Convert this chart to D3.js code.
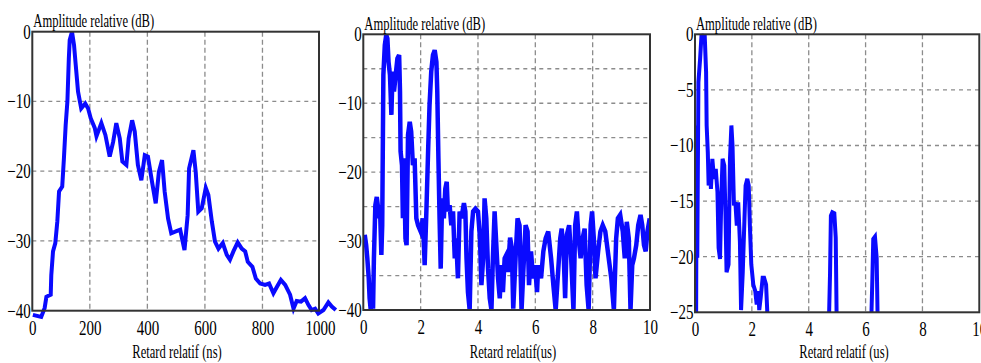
<!DOCTYPE html>
<html>
<head>
<meta charset="utf-8">
<script src="https://cdn.jsdelivr.net/npm/d3@7"></script>
<style>
  body { margin: 0; background: #fff; }
  svg { display: block; }
</style>
</head>
<body>
<svg id="chart" width="981" height="363"></svg>
<script>
// panel 1 : retard en ns
const p1Delay = [2,31,43,49,64,66,72,80,87,93,104,110,116,122,127,130,138,145,151,159,170,184,194,203,217,223,240,254,269,281,292,304,313,327,335,347,356,367,379,391,402,416,429,440,451,460,472,483,501,514,529,540,545,560,568,577,589,603,612,624,635,647,662,676,687,699,714,728,740,749,765,777,792,809,823,838,850,864,879,896,908,919,934,948,960,971,983,994,1012,1029,1041,1055];
const p1Amp = [-40.6,-40.9,-39.6,-38,-37.7,-34.9,-31.5,-30.3,-27.2,-22.9,-22.2,-18.1,-13.4,-10,-3.8,-1.2,0,-1.9,-4.8,-8.6,-11,-10.3,-11,-12.4,-13.8,-15,-13.1,-14.8,-17.9,-15.8,-13.1,-15.3,-18.6,-19.1,-15.3,-12.7,-14.3,-19.1,-21.3,-17.7,-17.9,-21.5,-24.6,-20.1,-18.4,-22.9,-26.8,-28.9,-28.6,-28.4,-31.3,-26.3,-19.6,-17,-20.1,-25.8,-25.3,-22.4,-23.4,-27.2,-30.1,-31.1,-30.3,-32,-32.7,-31.5,-30.2,-31.1,-31.5,-33,-33.7,-35.4,-36.1,-36.3,-36.1,-37.5,-36.6,-35.6,-36.3,-37.7,-39.7,-38.6,-38.7,-38.2,-39.2,-39.9,-39.7,-40.4,-39.9,-38.8,-39.4,-39.9];

// panel 2 : retard en us
const p2Delay = [0.05,0.1,0.14,0.19,0.22,0.26,0.3,0.34,0.37,0.42,0.47,0.51,0.55,0.58,0.63,0.66,0.7,0.75,0.8,0.84,0.88,0.93,0.98,1.02,1.07,1.13,1.19,1.25,1.28,1.3,1.35,1.38,1.42,1.47,1.51,1.56,1.62,1.67,1.73,1.79,1.85,1.91,2.0,2.08,2.14,2.2,2.26,2.31,2.37,2.43,2.49,2.55,2.58,2.62,2.66,2.7,2.75,2.81,2.86,2.91,2.95,3.01,3.07,3.13,3.19,3.24,3.3,3.36,3.42,3.51,3.56,3.6,3.65,3.71,3.77,3.83,3.91,4.0,4.07,4.12,4.18,4.23,4.29,4.35,4.41,4.47,4.52,4.58,4.64,4.7,4.76,4.81,4.87,4.93,4.99,5.04,5.12,5.18,5.23,5.31,5.38,5.45,5.52,5.58,5.66,5.73,5.78,5.85,5.92,5.99,6.06,6.1,6.2,6.28,6.36,6.45,6.55,6.63,6.71,6.78,6.87,6.92,6.99,7.04,7.1,7.18,7.25,7.33,7.39,7.45,7.51,7.58,7.65,7.72,7.79,7.86,7.93,7.98,8.04,8.1,8.19,8.27,8.35,8.44,8.56,8.65,8.74,8.82,8.88,8.96,9.05,9.12,9.19,9.26,9.32,9.38,9.44,9.52,9.59,9.67,9.73,9.79,9.85,9.91,9.99];
const p2Amp = [-29.1,-30.6,-32.5,-35.4,-38.3,-40,-37.4,-39.8,-32.5,-24.8,-23.6,-25,-26.7,-24.8,-32,-27.7,-5.9,-1.6,-0.1,-0.6,-4,-5.9,-11.7,-5.4,-8.3,-5.9,-3.5,-3,-8.3,-17,-19,-26.7,-18,-29.6,-30.6,-14.6,-12.7,-14.1,-19,-18,-26.7,-27.7,-28.6,-26.7,-33.5,-25.7,-17,-10.3,-5.4,-3,-2.3,-4,-8.3,-18,-26.7,-34,-23.8,-26.7,-22.4,-21.4,-25.7,-24.8,-27.7,-25.7,-32.5,-29.6,-35.4,-25.7,-26.7,-24.5,-25.7,-32.5,-37.4,-40,-28.6,-25.7,-25.3,-25.7,-29.6,-36.4,-32.5,-23.8,-26.7,-34,-38.3,-40,-32.5,-25.7,-30.6,-35.4,-38.3,-33.5,-37.4,-32.5,-32,-34.5,-29.5,-31,-39.8,-32.5,-26.7,-27.7,-40,-34.5,-27.7,-28.6,-36.4,-31.5,-35.4,-33.5,-37.4,-33.5,-35.4,-31.5,-29.6,-28.6,-32.5,-36.4,-40,-35.4,-29.6,-28.2,-32,-38.3,-29.1,-27.7,-32.5,-40,-27.7,-25.7,-29.6,-32.5,-29.6,-28.2,-36.4,-40,-27.7,-25.7,-29.6,-35.4,-31.5,-28.6,-27.7,-28.6,-32.5,-35.4,-40,-29.6,-26.7,-26.2,-28.6,-32.5,-27.2,-29.6,-40,-33.5,-32.5,-30.6,-27.7,-26.2,-27.7,-30.6,-31.5,-28.6,-26.7];

// panel 3 : retard en us (sous -25 dB hors cadre)
const p3Delay = [0.03,0.04,0.06,0.08,0.12,0.18,0.23,0.29,0.34,0.39,0.41,0.45,0.48,0.53,0.56,0.61,0.67,0.73,0.79,0.83,0.88,0.93,0.97,1.03,1.07,1.11,1.18,1.23,1.28,1.32,1.37,1.42,1.47,1.52,1.58,1.62,1.68,1.74,1.78,1.84,1.89,1.93,1.98,2.05,2.12,2.17,2.23,2.26,2.31,2.38,2.43,2.5,2.54,2.6,2.9,2.95,3.82,3.87,3.92,4.29,4.34,4.39,4.68,4.72,4.75,4.78,4.83,4.9,4.95,4.98,5.05,6.15,6.21,6.24,6.27,6.33,6.39,6.42,6.5,10];
const p3Amp = [-40,-24.8,-8.2,-20.1,-4.3,-2.2,0,-0.4,0,-3.4,-8.2,-10.6,-13.6,-11.8,-13.9,-11.2,-13,-12.1,-14.2,-19.2,-20.2,-14.2,-11.2,-11.8,-16,-21.4,-20.7,-11.2,-8.2,-10,-15.4,-15.1,-17.2,-15.1,-18.7,-24.8,-21.4,-16.6,-13.6,-13,-13.6,-17.2,-20.7,-22.5,-23.1,-24.3,-23.1,-24.8,-23.7,-21.9,-21.9,-22.5,-24.8,-40,-25,-40,-40,-25,-40,-40,-25,-40,-40,-24.8,-21.5,-16.3,-16,-16.1,-18.3,-25,-40,-40,-24.8,-21.9,-18.4,-18.2,-20.1,-25,-40,-40];

const p1XTicks = [0, 200, 400, 600, 800, 1000];
const p1YTicks = [0, -10, -20, -30, -40];
const p1XGrid = [200, 400, 600, 800];
const p1YGrid = [-10, -20, -30];

const p2XTicks = [0, 2, 4, 6, 8, 10];
const p2YTicks = [0, -10, -20, -30, -40];
const p2XGrid = [2, 4, 6, 8];
const p2YGrid = [-5, -10, -15, -20, -25, -30, -35];

const p3XTicks = [0, 2, 4, 6, 8, 10];
const p3YTicks = [0, -5, -10, -15, -20, -25];
const p3XGrid = [2, 4, 6, 8];
const p3YGrid = [-5, -10, -15, -20];

const titleText = "Amplitude relative (dB)";

const svg = d3.select("#chart");
const FONT = "'Liberation Serif', 'DejaVu Serif', serif";
const SQ = 0.7;    // titres un peu ecrases comme dans l'image
const SQT = 0.75;  // chiffres des axes

function panel(o) {
  const x = d3.scaleLinear().domain(o.xDom).range([o.left, o.right]);
  const y = d3.scaleLinear().domain(o.yDom).range([o.bottom, o.top]);
  const g = svg.append("g");

  // grille pointillee
  g.append("g").selectAll("line").data(o.xGrid).join("line")
    .attr("x1", d => x(d)).attr("x2", d => x(d))
    .attr("y1", o.top).attr("y2", o.bottom)
    .attr("stroke", "#8c8c8c").attr("stroke-width", 1.3)
    .attr("stroke-dasharray", "5,3");
  g.append("g").selectAll("line").data(o.yGrid).join("line")
    .attr("x1", o.left).attr("x2", o.right)
    .attr("y1", d => y(d)).attr("y2", d => y(d))
    .attr("stroke", "#8c8c8c").attr("stroke-width", 1.3)
    .attr("stroke-dasharray", "4,4");

  // courbe
  const pts = o.delay.map((d, i) => [d, o.amp[i]]);
  let lineG = g.append("g");
  if (o.clip) {
    svg.append("clipPath").attr("id", o.clip)
      .append("rect")
      .attr("x", o.left).attr("y", o.top - 3)
      .attr("width", o.right - o.left).attr("height", o.bottom - o.top + 3);
    lineG.attr("clip-path", `url(#${o.clip})`);
  }
  lineG.append("path")
    .datum(pts)
    .attr("fill", "none")
    .attr("stroke", "#0a0aff")
    .attr("stroke-width", o.sw)
    .attr("stroke-linejoin", "miter")
    .attr("d", d3.line().x(d => x(d[0])).y(d => y(d[1])));

  // cadre
  g.append("rect")
    .attr("x", o.left).attr("y", o.top)
    .attr("width", o.boxRight - o.left).attr("height", o.bottom - o.top)
    .attr("fill", "none").attr("stroke", "#333").attr("stroke-width", 2);

  // axes
  const xa = g.append("g").attr("transform", `translate(0,${o.bottom})`)
    .call(d3.axisBottom(x).tickValues(o.xTicks).tickSize(0).tickPadding(10).tickFormat(d3.format("d")));
  const ya = g.append("g").attr("transform", `translate(${o.left},0)`)
    .call(d3.axisLeft(y).tickValues(o.yTicks).tickSize(0).tickPadding(2).tickFormat(d3.format("d")));
  [xa, ya].forEach(a => {
    a.select(".domain").remove();
    a.attr("font-family", FONT).attr("font-size", 20);
    a.selectAll("text").attr("fill", "#000")
      .attr("transform", `scale(${SQT},1)`);
  });

  // titres
  g.append("text")
    .attr("transform", `translate(${o.left + 1},${o.titleY}) scale(${SQ},1)`)
    .attr("font-family", FONT).attr("font-size", 18)
    .text(titleText);
  g.append("text")
    .attr("transform", `translate(${o.labelX},358) scale(${SQ},1)`)
    .attr("text-anchor", "middle")
    .attr("font-family", FONT).attr("font-size", 18)
    .text(o.xLabel);
}

panel({
  delay: p1Delay, amp: p1Amp, xDom: [0, 1000], yDom: [-40, 0],
  left: 32.3, right: 320, boxRight: 319, top: 31.7, bottom: 310.7,
  xTicks: p1XTicks, yTicks: p1YTicks, xGrid: p1XGrid, yGrid: p1YGrid,
  titleY: 27, labelX: 177, xLabel: "Retard relatif (ns)", sw: 4
});
panel({
  delay: p2Delay, amp: p2Amp, xDom: [0, 10], yDom: [-40, 0],
  left: 363.3, right: 650, boxRight: 650, top: 34.3, bottom: 310,
  xTicks: p2XTicks, yTicks: p2YTicks, xGrid: p2XGrid, yGrid: p2YGrid,
  titleY: 30, labelX: 513, xLabel: "Retard relatif(us)", sw: 4.5, clip: "c2"
});
panel({
  delay: p3Delay, amp: p3Amp, xDom: [0, 10], yDom: [-25, 0],
  left: 695, right: 979.3, boxRight: 979.3, top: 34.3, bottom: 312.3,
  xTicks: p3XTicks, yTicks: p3YTicks, xGrid: p3XGrid, yGrid: p3YGrid,
  titleY: 30, labelX: 844, xLabel: "Retard relatif (us)", sw: 4, clip: "c3"
});
</script>
</body>
</html>
